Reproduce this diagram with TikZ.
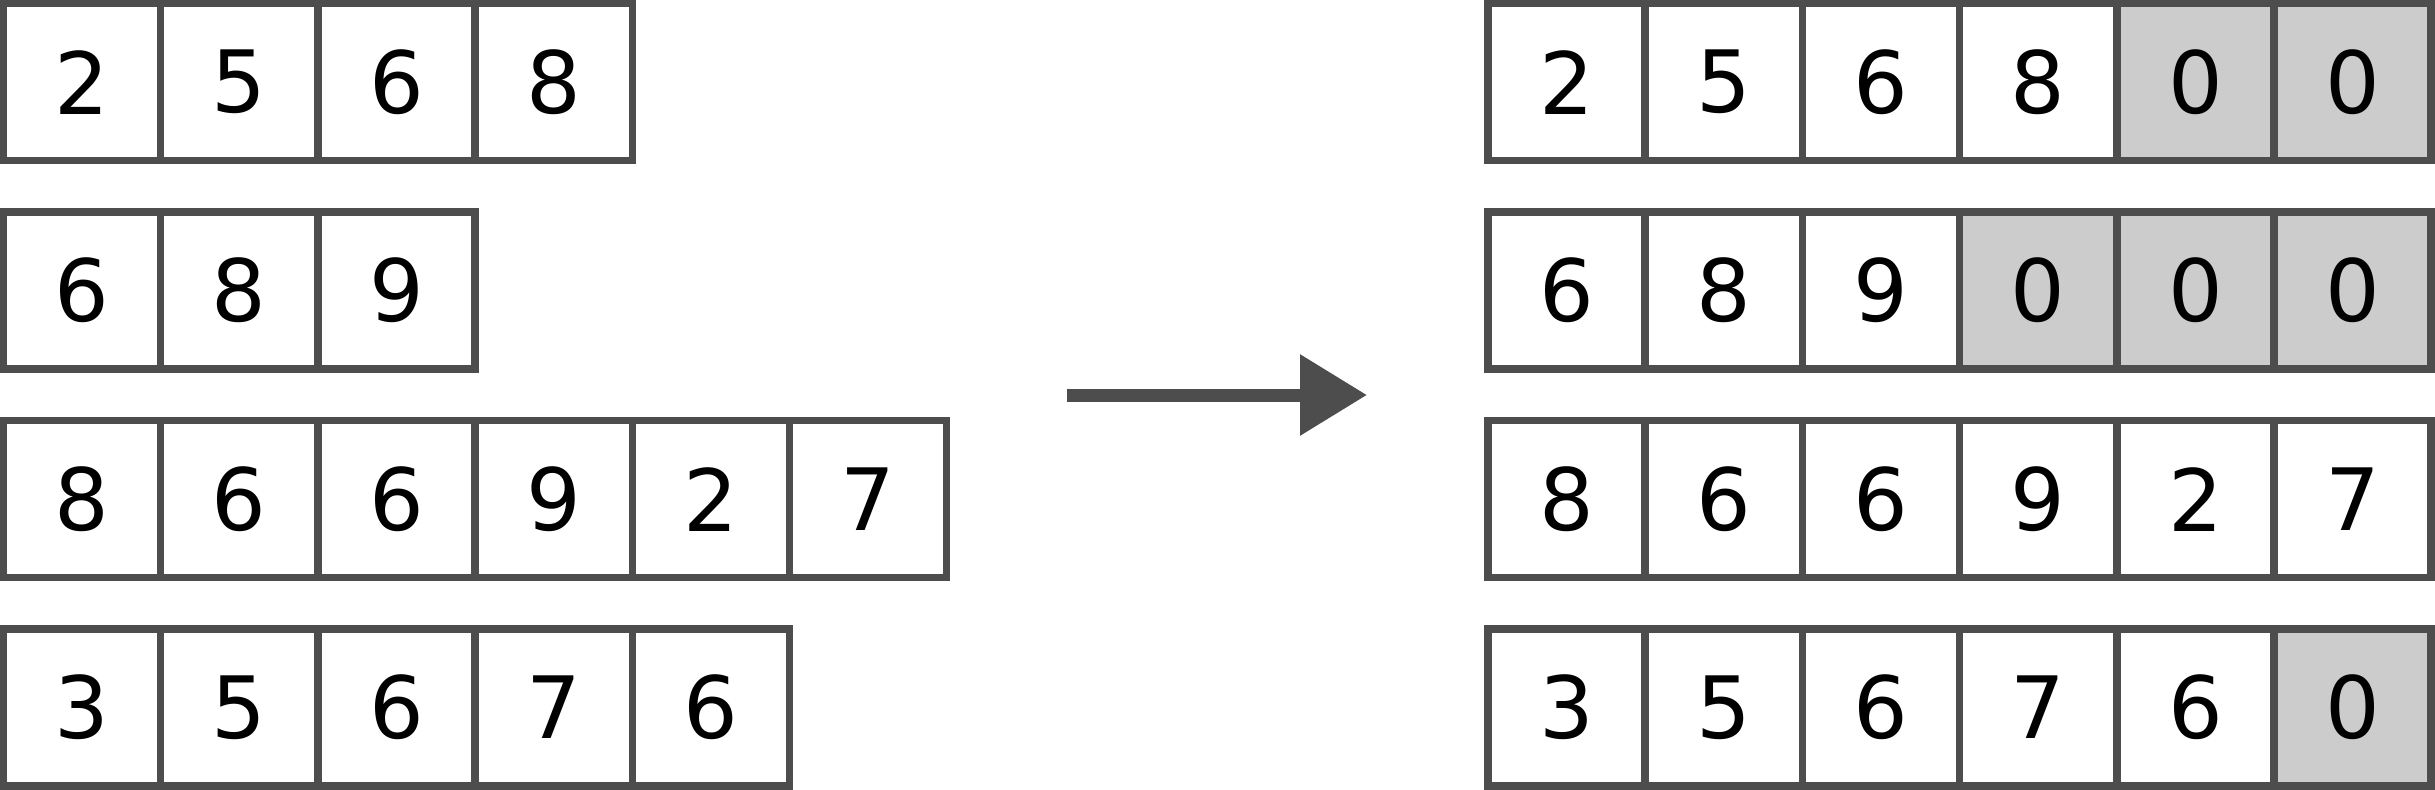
\documentclass[tikz,border=0pt]{standalone}
\usepackage{fontspec}
\setmainfont{DejaVu Sans}
\usetikzlibrary{arrows.meta}
\definecolor{edge}{HTML}{4D4D4D}
\definecolor{pad}{HTML}{CCCCCC}
\begin{document}
\begin{tikzpicture}[x=0.5bp,y=-0.5bp,
  cell/.style={draw=edge, line width=3.75bp, fill=white, rectangle,
    minimum width=78.6bp, minimum height=78.6bp, inner sep=0pt, outer sep=0pt,
    font=\fontsize{43bp}{50bp}\selectfont},
  padcell/.style={cell, fill=pad}]
\useasboundingbox (0,0) rectangle (2435,790);
% left grid
\foreach \row/\vals in {0/{2,5,6,8},1/{6,8,9},2/{8,6,6,9,2,7},3/{3,5,6,7,6}}{
  \foreach \v [count=\i from 0] in \vals {
    \node[cell] (L-\row-\i) at ({82.1+157.2*\i},{82.1+208.5*\row}) {\v};
  }
}
% right grid
\foreach \row/\vals/\n in {0/{2,5,6,8}/4,1/{6,8,9}/3,2/{8,6,6,9,2,7}/6,3/{3,5,6,7,6}/5}{
  \foreach \v [count=\i from 0] in \vals {
    \node[cell] (R-\row-\i) at ({1566.6+157.2*\i},{82.1+208.5*\row}) {\v};
  }
  \ifnum\n<6
    \foreach \i in {\n,...,5}{
      \node[padcell] (R-\row-\i) at ({1566.6+157.2*\i},{82.1+208.5*\row}) {0};
    }
  \fi
}
% arrow
\coordinate (a1) at (1067,395);
\coordinate (a2) at (1367,395);
\draw[edge, line width=6.5bp, -{Triangle[length=33.5bp,width=39bp]}] (a1) -- (a2);
\end{tikzpicture}
\end{document}
